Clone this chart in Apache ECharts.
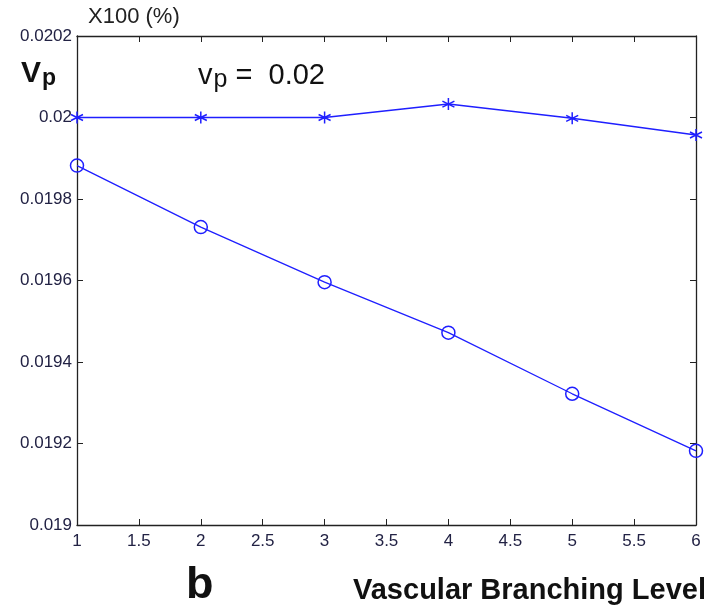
<!DOCTYPE html>
<html><head><meta charset="utf-8">
<script src="https://cdn.jsdelivr.net/npm/echarts@6/dist/echarts.min.js"></script>
<style>html,body{margin:0;padding:0;background:#fff}#c{width:717px;height:609px}</style>
</head><body><div id="c"></div>
<script>
const levels = [1, 2, 3, 4, 5, 6];
const starValues = [0.02, 0.02, 0.02, 0.020033, 0.019998, 0.019957];
const circleValues = [0.019882, 0.019731, 0.019596, 0.019472, 0.019322, 0.019182];
const xTicks = {min: 1, max: 6, interval: 0.5};
const yTicks = {min: 0.019, max: 0.0202, interval: 0.0002};

const blue = '#1f1fff';
const axisCol = '#222';
const FF = '"Liberation Sans", Arial, sans-serif';
const starPath = 'path://M0,-10L0,10M-8.66,-5L8.66,5M-8.66,5L8.66,-5';
const fmt = v => String(+v.toFixed(4));

const chart = echarts.init(document.getElementById('c'));
const tickStyle = {show: true, inside: true, length: 6, lineStyle: {color: axisCol, width: 1}};
const lineStyleAxis = {show: true, onZero: false, lineStyle: {color: axisCol, width: 1.3}};
chart.setOption({
  animation: false,
  grid: {left: 77, right: 21, top: 36, bottom: 84, containLabel: false},
  xAxis: [
    {type: 'value', min: xTicks.min, max: xTicks.max, interval: xTicks.interval,
     axisLine: lineStyleAxis, axisTick: tickStyle, splitLine: {show: false},
     axisLabel: {color: '#222244', fontFamily: FF, fontSize: 17, margin: 8, formatter: fmt}},
    {type: 'value', position: 'top', min: xTicks.min, max: xTicks.max, interval: xTicks.interval,
     axisLine: lineStyleAxis, axisTick: tickStyle, splitLine: {show: false}, axisLabel: {show: false}}
  ],
  yAxis: [
    {type: 'value', min: yTicks.min, max: yTicks.max, interval: yTicks.interval,
     axisLine: lineStyleAxis, axisTick: tickStyle, splitLine: {show: false},
     axisLabel: {color: '#222244', fontFamily: FF, fontSize: 17, margin: 5, formatter: fmt}},
    {type: 'value', position: 'right', min: yTicks.min, max: yTicks.max, interval: yTicks.interval,
     axisLine: lineStyleAxis, axisTick: tickStyle, splitLine: {show: false}, axisLabel: {show: false}}
  ],
  series: [
    {type: 'line', data: levels.map((x, i) => [x, starValues[i]]),
     lineStyle: {color: blue, width: 1.5}, symbol: starPath, symbolSize: 12,
     itemStyle: {color: 'rgba(0,0,0,0)', borderColor: blue, borderWidth: 1.5}},
    {type: 'line', data: levels.map((x, i) => [x, circleValues[i]]),
     lineStyle: {color: blue, width: 1.3}, symbol: 'circle', symbolSize: 13,
     itemStyle: {color: 'rgba(0,0,0,0)', borderColor: blue, borderWidth: 1.5}}
  ],
  graphic: [
    {type: 'text', left: 88, top: 6, style: {text: 'X100 (%)', font: '22px ' + FF, fill: '#222'}},
    {type: 'text', left: 21, top: 59, style: {
      text: '{a|V}{s|p}', rich: {
        a: {font: 'bold 30px ' + FF, fill: '#111'},
        s: {font: 'bold 23px ' + FF, fill: '#111', padding: [10, 0, 0, 1]}
      }}},
    {type: 'text', left: 198, top: 61, style: {
      text: '{a|v}{s|p}{a| =  0.02}', rich: {
        a: {font: '29px ' + FF, fill: '#111'},
        s: {font: '25px ' + FF, fill: '#111', padding: [10, 0, 0, 1]}
      }}},
    {type: 'text', left: 186, top: 563, style: {text: 'b', font: 'bold 45px ' + FF, fill: '#111'}},
    {type: 'text', left: 353, top: 576, style: {text: 'Vascular Branching Level', font: 'bold 29px ' + FF, fill: '#111'}}
  ]
});
</script></body></html>
